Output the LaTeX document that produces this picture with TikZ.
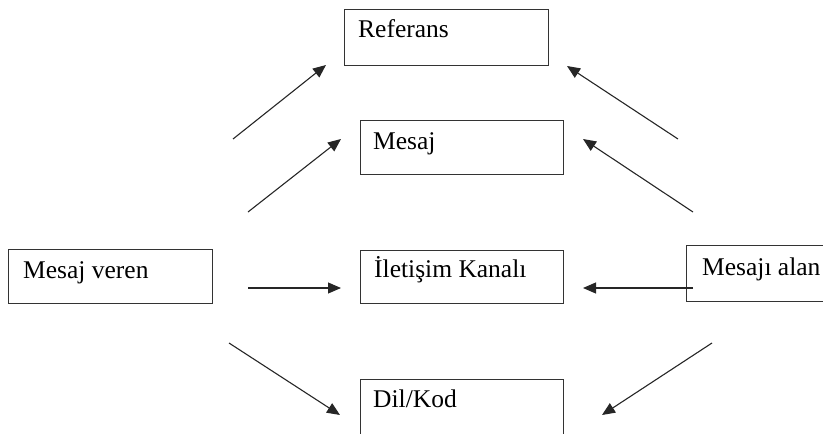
\documentclass[tikz,border=0pt]{standalone}
\usepackage{fontspec}
\setmainfont{Liberation Serif}
\usetikzlibrary{arrows.meta}
\begin{document}
\begin{tikzpicture}[x=1pt,y=-1pt,
  box/.style={draw=black!80,line width=1.3pt,inner sep=0pt,anchor=north west},
  lbl/.style={anchor=base west,inner sep=0pt,font=\fontsize{25.5}{28}\selectfont},
  arr/.style={draw=black!85,line width=1.1pt,-{Triangle[length=13pt,width=11pt]}}]
\useasboundingbox (0,0) rectangle (823,434);
% boxes
\node[box,minimum width=204pt,minimum height=56pt] (ref) at (344,9) {};
\node[box,minimum width=203pt,minimum height=54pt] (mes) at (360,120) {};
\node[box,minimum width=204pt,minimum height=54pt] (ver) at (8,249) {};
\node[box,minimum width=203pt,minimum height=53pt] (kan) at (360,250) {};
\node[box,minimum width=150pt,minimum height=56pt] (alan) at (686,245) {};
\node[box,minimum width=203pt,minimum height=70pt] (dil) at (360,379) {};
% labels
\node[lbl] (tref) at (358,37) {Referans};
\node[lbl] (tmes) at (373,149) {Mesaj};
\node[lbl] (tver) at (23,278) {Mesaj veren};
\node[lbl] (tkan) at (374,277) {İletişim Kanalı};
\node[lbl] (talan) at (702,275) {Mesajı alan};
\node[lbl] (tdil) at (373,407) {Dil/Kod};
% arrow endpoints
\coordinate (a1s) at (233,139); \coordinate (a1e) at (326,65);
\coordinate (a2s) at (248,212); \coordinate (a2e) at (341,139);
\coordinate (a3s) at (678,139); \coordinate (a3e) at (567,66);
\coordinate (a4s) at (693,212); \coordinate (a4e) at (583,139);
\coordinate (a5s) at (229,343); \coordinate (a5e) at (340,415);
\coordinate (a6s) at (712,343); \coordinate (a6e) at (602,415);
\coordinate (a7s) at (248,288); \coordinate (a7e) at (341,288);
\coordinate (a8s) at (693,288); \coordinate (a8e) at (583,288);
\draw[arr] (a1s) -- (a1e);
\draw[arr] (a2s) -- (a2e);
\draw[arr] (a3s) -- (a3e);
\draw[arr] (a4s) -- (a4e);
\draw[arr] (a5s) -- (a5e);
\draw[arr] (a6s) -- (a6e);
\draw[arr] (a7s) -- (a7e);
\draw[arr] (a8s) -- (a8e);
\end{tikzpicture}
\end{document}
